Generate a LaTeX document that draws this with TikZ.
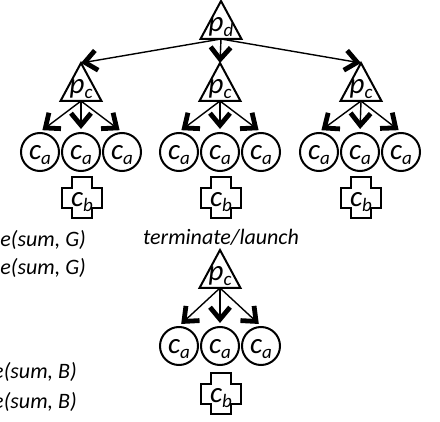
\documentclass[tikz,border=0pt]{standalone}
\usepackage{fontspec}
\setmainfont{Carlito}
\usetikzlibrary{arrows.meta}
% label: main letter, subscript, vertical shift (box smashed so the shift shows)
\newcommand\lab[3]{\raisebox{#3}[0pt][0pt]{#1\raisebox{-5pt}{\fontsize{19}{22}\selectfont #2}}}
\begin{document}
\begin{tikzpicture}[x=1pt,y=-1pt,
  shp/.style={line width=2pt, line join=miter},
  tri/.style={minimum width=41pt, minimum height=38pt, inner sep=0pt, outer sep=0pt,
    font=\fontsize{29}{33}\selectfont\itshape},
  ca/.style={circle, draw, line width=2pt, minimum size=38pt, inner sep=0pt,
    font=\fontsize{29}{33}\selectfont\itshape},
  cb/.style={minimum width=40pt, minimum height=41pt, inner sep=0pt, outer sep=0pt,
    font=\fontsize{29}{33}\selectfont\itshape},
  arr/.style={line width=1.4pt, -{Straight Barb[length=12pt,width=20pt,line width=4.8pt]}},
  lbl/.style={font=\fontsize{22}{26}\selectfont\itshape, inner sep=0pt}
]
\useasboundingbox (0,0) rectangle (440,422);

% triangles
\node[tri] (pd)  at (221,20)  {\lab{p}{d}{-11.5pt}};
\node[tri] (pc1) at (81,82)   {\lab{p}{c}{-11.5pt}};
\node[tri] (pc2) at (220,82)  {\lab{p}{c}{-11.5pt}};
\node[tri] (pc3) at (361,82)  {\lab{p}{c}{-11.5pt}};
\node[tri] (pc4) at (220,269) {\lab{p}{c}{-11.5pt}};
\foreach \n in {pd,pc1,pc2,pc3,pc4}
  \draw[shp] (\n.south west) -- (\n.north) -- (\n.south east) -- cycle;

% circles
\node[ca] (a11) at (40,152)  {\lab{c}{a}{-8pt}};
\node[ca] (a12) at (81,152)  {\lab{c}{a}{-8pt}};
\node[ca] (a13) at (122,152) {\lab{c}{a}{-8pt}};
\node[ca] (a21) at (179,152) {\lab{c}{a}{-8pt}};
\node[ca] (a22) at (220,152) {\lab{c}{a}{-8pt}};
\node[ca] (a23) at (261,152) {\lab{c}{a}{-8pt}};
\node[ca] (a31) at (319,152) {\lab{c}{a}{-8pt}};
\node[ca] (a32) at (360,152) {\lab{c}{a}{-8pt}};
\node[ca] (a33) at (401,152) {\lab{c}{a}{-8pt}};
\node[ca] (a41) at (179,346) {\lab{c}{a}{-8pt}};
\node[ca] (a42) at (220,346) {\lab{c}{a}{-8pt}};
\node[ca] (a43) at (261,346) {\lab{c}{a}{-8pt}};

% crosses
\node[cb] (b1) at (82,198)  {\lab{c}{b}{-8.5pt}};
\node[cb] (b2) at (221,198) {\lab{c}{b}{-8.5pt}};
\node[cb] (b3) at (361,198) {\lab{c}{b}{-8.5pt}};
\node[cb] (b4) at (221,394) {\lab{c}{b}{-8.5pt}};
\foreach \n in {b1,b2,b3,b4}
  \draw[shp] ([xshift=10pt]\n.north west) -- ([xshift=-10pt]\n.north east)
    -- ([xshift=-10pt,yshift=-11pt]\n.north east) -- ([yshift=-11pt]\n.north east)
    -- ([yshift=10pt]\n.south east) -- ([xshift=-10pt,yshift=10pt]\n.south east)
    -- ([xshift=-10pt]\n.south east) -- ([xshift=10pt]\n.south west)
    -- ([xshift=10pt,yshift=10pt]\n.south west) -- ([yshift=10pt]\n.south west)
    -- ([yshift=-11pt]\n.north west) -- ([xshift=10pt,yshift=-11pt]\n.north west) -- cycle;

% arrows
\draw[arr] (pd.south) -- (pc1.north);
\draw[arr] (pd.south) -- (pc2.north);
\draw[arr] (pd.south) -- (pc3.north);
\foreach \p/\q in {pc1/a1,pc2/a2,pc3/a3,pc4/a4}{
  \draw[arr, shorten >=3pt] (\p.south) -- (\q1.north);
  \draw[arr, shorten >=3pt] (\p.south) -- (\q2.north);
  \draw[arr, shorten >=3pt] (\p.south) -- (\q3.north);
}

% texts
\node[lbl] (t1) at (221,237) {terminate/launch};
\node[lbl, anchor=east] (t2) at (86,240) {e(sum, G)};
\node[lbl, anchor=east] (t3) at (86,268) {e(sum, G)};
\node[lbl, anchor=east] (t4) at (77,372) {e(sum, B)};
\node[lbl, anchor=east] (t5) at (77,402) {e(sum, B)};
\end{tikzpicture}
\end{document}
